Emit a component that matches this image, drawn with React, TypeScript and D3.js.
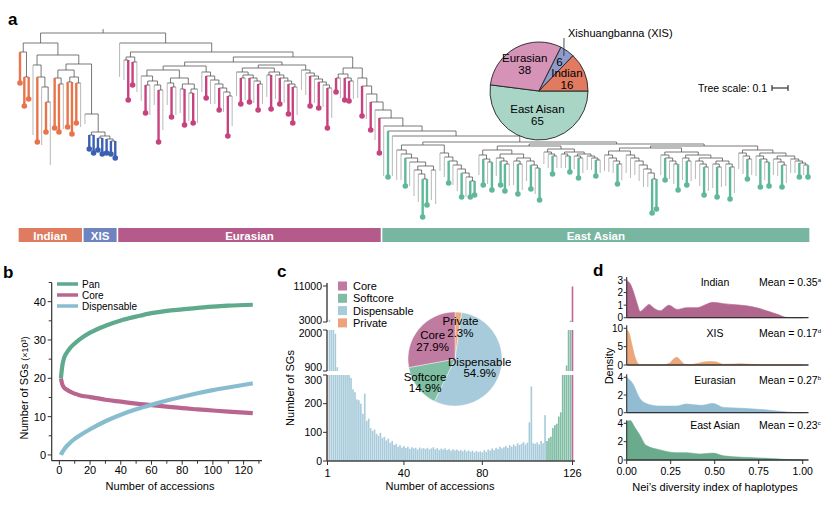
import * as d3 from "d3";

const FONT = "'Liberation Sans', Arial, Helvetica, sans-serif";

// ---------- a: tree (Newick; leaf code = group, upper case = pan-genome accession)
const INDIAN_A = "(I:31,(I:29,I:22):25):9";
const IND28 = "(i:70,(I:65,(i:58,(I:30,i:63):15):10):12):10";
const IND_RIGHT = "((I:50,(I:48,i:45):6):8,((I:45,I:52):5,(I:40,i:44):6):7):6";
const XIS = "(x:10,((X:14,X:18):3,((X:12,X:16):2,(X:14,(X:13,X:17):2):3):4):18):50";
const EU1 = "((e:20,E:40):3,(E:23,e:30):5):5";
const EUA1 = "(e:25,((E:28,e:30):4,(e:20,(E:52,e:40):5):4):5):6";
const EUA2 = "((e:22,(E:30,e:28):4):5,((e:24,E:36):5,((e:28,E:30):4,e:34):5):6):8";
const EUA3 = "(e:20,(E:22,(e:24,(e:20,(E:22,(e:20,(E:40,e:30):4):4):4):4):4):4):6";
const EUB1 = "(e:24,((E:26,e:22):3,(E:24,(e:22,(E:26,e:20):3):3):3):3):4";
const EUB2 = "((e:22,E:34):3,(e:24,(E:26,(e:22,(E:30,(E:36,e:28):3):3):3):3):3):4";
const EUB3 = "(e:20,(e:22,(E:30,(e:24,(E:26,(e:22,(E:40,e:30):3):3):3):3):3):3):5";
const EU3 = "((E:14,e:20):4,(E:22,(E:20,e:18):3):4):6";
const EA1 = "(a:30,(a:26,(A:28,(a:24,((a:26,(a:28,(A:38,A:26):5):4):4,(a:30,a:34):4):4):4):4):4):5";
const EA2 = "(a:18,(a:20,(A:22,(a:20,(a:22,(A:24,(a:20,(A:16,A:14):4):4):4):4):4):4):4):8";
const EA3 = "((a:20,(A:26,(a:22,A:28):3):4):5,((a:18,(A:24,(A:27,a:22):3):3):4,((a:24,(A:30,a:26):3):3,(a:20,(A:24,(a:26,A:32):3):4):3):4):4):4";
const EA4 = "((a:12,(a:14,(A:18,a:12):2):2):3,((a:14,(a:12,A:16):2):2,((a:13,(A:20,a:15):2):2,(a:14,(a:12,(A:16,a:13):2):2):2):2):3):3";
const EA5 = "((a:16,(a:14,(a:12,(A:20,a:16):3):3):3):4,(a:18,(a:20,(a:14,(a:16,(a:18,(a:14,(A:34,A:30):6):4):4):4):3):3):4):3";
const EA6 = "((a:20,(A:22,(a:18,(a:20,A:26):3):3):3):3,((a:22,(A:24,a:20):3):3,((a:18,(a:22,(A:28,a:24):3):3):3,((a:24,(A:30,a:20):3):3,(a:22,(A:32,a:26):3):3):3):3):3):4";
const EA7 = "((a:16,(a:18,(A:20,a:16):3):3):3,((a:20,(A:28,(a:18,A:24):3):3):3,((a:16,(a:14,(A:22,a:18):3):3):3,(a:14,(a:12,(A:14,(a:10,A:12):2):2):2):3):3):3):4";

const EA_MAIN = `((${EA1},${EA2}):3,((${EA3},${EA4}):2,((${EA5},${EA6}):2,${EA7}):2):2):6`;
const EA = `(a:50,(A:46,(a:40,${EA_MAIN}):5):5):8`;
const EU_LADDER = `(e:20,(E:30,(e:25,(E:28,(e:30,(E:35,${EA}):8):8):8):8):8):10`;
const EUA = `((${EUA1},${EUA2}):4,${EUA3}):4`;
const EUB = `((${EUB1},${EUB2}):3,${EUB3}):3`;
const EU2 = `(${EUA},${EUB}):5`;
const R4 = `(${EU3},${EU_LADDER}):11`;
const R3 = `(${EU2},${R4}):5`;
const R2 = `(${EU1},${R3}):9`;
const R = `(e:34,${R2}):10`;
const IND57 = `(${IND_RIGHT},${XIS}):9`;
const INDB = `(${IND28},${IND57}):12`;
const L = `(${INDIAN_A},${INDB}):10`;
const TREE = `(${L},${R});`;

const GROUP_CODES = ["i", "x", "e", "a"];
const GROUP_NAMES = ["Indian", "XIS", "Eurasian", "East Asian"];
const TREE_COLORS = ["#e8744c", "#3b5fb3", "#c7437f", "#5fb898"];
const BAR_COLORS = ["#df7b5f", "#6d84c1", "#b55b8b", "#79b6a2"];

const PIE_A_NAMES = ["East Aisan", "Eurasian", "", "Indian"];
const PIE_A_VALUES = [65, 38, 6, 16];
const PIE_A_COLORS = ["#a8d5c6", "#d593b8", "#8f9bcb", "#e07b61"];

// ---------- b: saturation curves (x10^3 SGs)
const CURVE_N = [1, 2, 3, 5, 7, 10, 13, 20, 30, 40, 50, 60, 70, 80, 90, 100, 110, 126];
const PAN = [20, 23.5, 25.2, 26.8, 27.9, 29.1, 30.1, 31.9, 33.7, 35.1, 36.1, 37, 37.6, 38, 38.4, 38.7, 38.95, 39.2];
const CORE = [20, 18.3, 17.6, 17, 16.5, 16, 15.6, 15.1, 14.4, 13.9, 13.4, 13, 12.6, 12.2, 11.9, 11.6, 11.3, 10.9];
const DISP = [0, 0.8, 1.4, 2.4, 3.2, 4.2, 5, 6.7, 8.8, 10.5, 11.9, 13.1, 14.2, 15.2, 16.1, 16.9, 17.6, 18.7];
const CURVE_NAMES = ["Pan", "Core", "Dispensable"];
const CURVE_COLORS = ["#5fa98d", "#b8668f", "#88bdd0"];

// ---------- c: SG frequency histogram
const PRIVATE_COUNTS = [900];
const DISPENSABLE_COUNTS = [
  3500, 2050, 2000, 1900, 1000, 600, 520, 470, 430, 390, 340,
  290, 250, 240, 215, 212, 200, 165, 235,
  140, 148, 115, 105, 110, 95, 88, 98, 80, 84,
  72, 78, 64, 70, 56, 60, 50, 55, 47, 52,
  45, 50, 42, 48, 44, 46, 40, 47, 43, 45,
  42, 46, 40, 44, 48, 41, 45, 39, 43, 40,
  44, 38, 42, 36, 41, 37, 40, 35, 38, 34,
  39, 33, 37, 32, 36, 30, 35, 31, 34, 30,
  38, 32, 40, 36, 44, 38, 46, 42, 50, 44,
  48, 52, 46, 55, 50, 58, 52, 62, 56, 60,
  66, 58, 64, 135, 260, 62, 60, 65, 58, 70, 62, 160,
];
const SOFTCORE_COUNTS = [70, 80, 85, 115, 125, 130, 155, 170, 400, 700, 1050, 2200, 3300];
const CORE_COUNTS = [10900];
const HIST_COLORS = ["#ec8d5e", "#a9ccdc", "#80bea4", "#c2659b"];
const C_TICKS = [0, 100, 200, 300, 900, 2000, 3000, 11000];
const C_XTICKS = [1, 40, 80, 126];

const PIE_C_NAMES = ["Private", "Dispensable", "Softcore", "Core"];
const PIE_C_VALUES = [2.3, 54.9, 14.9, 27.9];
const PIE_C_COLORS = ["#eeaa80", "#a8cbdb", "#7fbea3", "#bf7ba0"];
const LEGEND_C = ["Core", "Softcore", "Dispensable", "Private"];
const LEGEND_C_COLORS = ["#c07ba0", "#7fbca3", "#a8cbdb", "#eda27a"];

// ---------- d: Nei's diversity densities
const INDIAN_DENS: [number, number][] = [[0, 2.95], [0.02, 2.7], [0.04, 2.0], [0.06, 1.1], [0.077, 0.5], [0.1, 0.75], [0.127, 1.06], [0.155, 0.75], [0.19, 0.55], [0.24, 1.0], [0.287, 0.66], [0.34, 0.8], [0.4, 0.8], [0.45, 1.05], [0.49, 1.22], [0.55, 1.12], [0.6, 1.05], [0.68, 0.95], [0.75, 0.75], [0.8, 0.53], [0.86, 0.25], [0.91, 0.02], [1.0, 0]];
const XIS_DENS: [number, number][] = [[0, 9.6], [0.015, 8.5], [0.03, 5.5], [0.045, 2.5], [0.06, 0.7], [0.075, 0.05], [0.2, 0], [0.24, 0.4], [0.265, 1.6], [0.285, 2.1], [0.305, 1.3], [0.33, 0.2], [0.36, 0.1], [0.4, 0.4], [0.44, 0.85], [0.48, 0.95], [0.51, 0.8], [0.55, 0.2], [0.6, 0.25], [0.64, 0.35], [0.7, 0.2], [0.75, 0.1], [0.8, 0], [1, 0]];
const EURASIAN_DENS: [number, number][] = [[0, 4.0], [0.034, 3.3], [0.075, 1.6], [0.11, 1.05], [0.19, 0.75], [0.284, 0.75], [0.34, 0.98], [0.42, 0.83], [0.49, 1.05], [0.55, 0.6], [0.66, 0.5], [0.8, 0.3], [0.91, 0.08], [0.98, 0], [1, 0]];
const EASTASIAN_DENS: [number, number][] = [[0, 4.2], [0.02, 4.3], [0.045, 3.6], [0.075, 2.7], [0.11, 1.6], [0.19, 1.1], [0.284, 0.8], [0.34, 0.8], [0.42, 0.65], [0.49, 0.75], [0.55, 0.45], [0.66, 0.3], [0.8, 0.18], [0.95, 0.02], [1, 0]];
const DENS_NAMES = ["Indian", "XIS", "Eurasian", "East Asian"];
const DENS_MEANS = ["0.35", "0.17", "0.27", "0.23"];
const DENS_SUPS = ["a", "d", "b", "c"];
const DENS_MAX = [3, 10, 4, 4];
const DENS_TICKS = [[0, 1, 2, 3], [0, 5, 10], [0, 2, 4], [0, 2, 4]];
const DENS_COLORS = ["#b1668d", "#eba67b", "#91bcd2", "#6aab8e"];
const D_XTICKS = [0, 0.25, 0.5, 0.75, 1];

type TNode = { name: string; length: number; children: TNode[] };

function parseNewick(s: string): TNode {
  let i = 0;
  function node(): TNode {
    const n: TNode = { name: "", length: 0, children: [] };
    if (s[i] === "(") {
      i++;
      n.children.push(node());
      while (s[i] === ",") {
        i++;
        n.children.push(node());
      }
      i++;
    }
    while (i < s.length && !",():;".includes(s[i])) n.name += s[i++];
    if (s[i] === ":") {
      i++;
      let num = "";
      while (i < s.length && /[0-9.]/.test(s[i])) num += s[i++];
      n.length = +num;
    }
    return n;
  }
  return node();
}

function TreePanel() {
  const root: any = d3.hierarchy(parseNewick(TREE), (d) => (d.children.length ? d.children : null));
  const leaves: any[] = root.leaves();
  const xLeaf = d3.scaleLinear().domain([0, leaves.length - 1]).range([20, 808]);
  const yTree = d3.scaleLinear().domain([0, 100]).range([33, 133]);
  root.eachBefore((n: any) => {
    n.dist = (n.parent ? n.parent.dist : 0) + n.data.length;
  });
  leaves.forEach((l, i) => (l.px = xLeaf(i)));
  root.eachAfter((n: any) => {
    if (n.children) n.px = (n.children[0].px + n.children[n.children.length - 1].px) / 2;
  });
  const nodes: any[] = root.descendants();
  const spacing = xLeaf(1) - xLeaf(0);
  const colored = leaves.filter((l) => l.data.name !== l.data.name.toLowerCase());

  const pie = d3.pie<number>().sort(null).startAngle(Math.PI / 2).endAngle(Math.PI / 2 + 2 * Math.PI)(PIE_A_VALUES);
  const pr = 49;
  const arc = d3.arc<d3.PieArcDatum<number>>().innerRadius(0).outerRadius(pr);
  const cx = 539, cy = 91;
  const xisSlice = pie[2];
  const xisMid = (xisSlice.startAngle + xisSlice.endAngle) / 2;

  return (
    <g>
      <text x={8} y={25} fontSize={17} fontWeight="bold">a</text>
      <line x1={root.px} x2={root.px} y1={yTree(0) - 4} y2={yTree(0)} stroke="#555" strokeWidth={0.8} />
      {nodes.filter((n) => n.children).map((n, k) => (
        <line key={"h" + k} x1={n.children[0].px} x2={n.children[n.children.length - 1].px}
          y1={yTree(n.dist)} y2={yTree(n.dist)} stroke="#555" strokeWidth={0.8} />
      ))}
      {nodes.filter((n) => n.parent).map((n, k) => (
        <line key={"v" + k} x1={n.px} x2={n.px} y1={yTree(n.parent.dist)} y2={yTree(n.dist)}
          stroke={n.children ? "#555" : "#a6a6a6"} strokeWidth={0.8} />
      ))}
      {colored.map((n, k) => {
        const c = TREE_COLORS[GROUP_CODES.indexOf(n.data.name.toLowerCase())];
        return (
          <g key={"c" + k}>
            <line x1={n.px} x2={n.px} y1={yTree(n.parent.dist)} y2={yTree(n.dist)} stroke={c} strokeWidth={2.4} />
            <circle cx={n.px} cy={yTree(n.dist)} r={2.8} fill={c} />
          </g>
        );
      })}
      {GROUP_CODES.map((code, gi) => {
        const xs = leaves.filter((l) => l.data.name.toLowerCase() === code).map((l) => l.px);
        const x0 = (d3.min(xs) as number) - spacing / 2 + 0.8;
        const x1 = (d3.max(xs) as number) + spacing / 2 - 0.8;
        return (
          <g key={code}>
            <rect x={x0} y={228} width={x1 - x0} height={14} fill={BAR_COLORS[gi]} />
            <text x={(x0 + x1) / 2} y={239.5} fontSize={11.5} fontWeight="bold" fill="#fff" textAnchor="middle">
              {GROUP_NAMES[gi]}
            </text>
          </g>
        );
      })}
      <g transform={`translate(${cx},${cy})`}>
        {pie.map((s, k) => (
          <path key={k} d={arc(s) ?? ""} fill={PIE_A_COLORS[k]} stroke="#222" strokeWidth={0.9} />
        ))}
        {pie.map((s, k) => {
          const a = (s.startAngle + s.endAngle) / 2;
          const rr = pr * (k === 0 ? 0.5 : k === 2 ? 0.72 : 0.62);
          const lx = Math.sin(a) * rr, ly = -Math.cos(a) * rr;
          return PIE_A_NAMES[k] ? (
            <text key={"t" + k} x={lx} y={ly - 2} fontSize={11.5} textAnchor="middle">
              <tspan x={lx}>{PIE_A_NAMES[k]}</tspan>
              <tspan x={lx} dy={11.5}>{PIE_A_VALUES[k]}</tspan>
            </text>
          ) : (
            <text key={"t" + k} x={lx} y={ly + 4} fontSize={11.5} textAnchor="middle">{PIE_A_VALUES[k]}</text>
          );
        })}
        <line x1={Math.sin(xisMid) * pr * 0.88} y1={-Math.cos(xisMid) * pr * 0.88} x2={25} y2={-53} stroke="#222" strokeWidth={0.8} />
      </g>
      <text x={568} y={37} fontSize={11}>Xishuangbanna (XIS)</text>
      <text x={698} y={92} fontSize={10.5}>Tree scale: 0.1</text>
      <line x1={772} x2={788} y1={88} y2={88} stroke="#333" strokeWidth={1.2} />
      <line x1={772} x2={772} y1={85} y2={91} stroke="#333" strokeWidth={1.2} />
      <line x1={788} x2={788} y1={85} y2={91} stroke="#333" strokeWidth={1.2} />
    </g>
  );
}

function CurvePanel() {
  const x = d3.scaleLinear().domain([-5, 132]).range([51.7, 262]);
  const y = d3.scaleLinear().domain([-1.5, 45]).range([460.7, 282.5]);
  const line = d3.line<number>().x((_, i) => x(CURVE_N[i])).y((d) => y(d)).curve(d3.curveMonotoneX);
  const series = [PAN, CORE, DISP];
  const order = [1, 2, 0];
  return (
    <g>
      <text x={3} y={278} fontSize={17} fontWeight="bold">b</text>
      <line x1={x(-5)} x2={x(-5)} y1={y(45)} y2={y(-1.5)} stroke="#333" strokeWidth={1.2} />
      <line x1={x(-5)} x2={x(132)} y1={y(-1.5)} y2={y(-1.5)} stroke="#333" strokeWidth={1.2} />
      {d3.range(0, 46, 5).map((t) => (
        <line key={"yt" + t} x1={x(-5) - (t % 10 === 0 ? 4 : 3)} x2={x(-5)} y1={y(t)} y2={y(t)} stroke="#333" strokeWidth={1} />
      ))}
      {d3.range(0, 41, 10).map((t) => (
        <text key={"yl" + t} x={46} y={y(t) + 4} fontSize={11} textAnchor="end">{t}</text>
      ))}
      {d3.range(0, 131, 10).map((t) => (
        <line key={"xt" + t} x1={x(t)} x2={x(t)} y1={y(-1.5)} y2={y(-1.5) + (t % 20 === 0 ? 4 : 3)} stroke="#333" strokeWidth={1} />
      ))}
      {d3.range(0, 121, 20).map((t) => (
        <text key={"xl" + t} x={x(t)} y={474} fontSize={11} textAnchor="middle">{t}</text>
      ))}
      {order.map((k) => (
        <path key={k} d={line(series[k]) ?? ""} fill="none" stroke={CURVE_COLORS[k]} strokeWidth={4.2} />
      ))}
      {CURVE_NAMES.map((n, k) => (
        <g key={n}>
          <line x1={57} x2={78} y1={284 + k * 11} y2={284 + k * 11} stroke={CURVE_COLORS[k]} strokeWidth={3.5} />
          <text x={82} y={287.5 + k * 11} fontSize={10}>{n}</text>
        </g>
      ))}
      <text transform="translate(28,388) rotate(-90)" fontSize={11} textAnchor="middle">
        Number of SGs <tspan fontSize={9}>(×10³)</tspan>
      </text>
      <text x={160} y={490} fontSize={11} textAnchor="middle">Number of accessions</text>
    </g>
  );
}

function HistPanel() {
  const x = d3.scaleLinear().domain([1, 126]).range([327.5, 572.5]);
  const yLow = d3.scaleLinear().domain([0, 300]).range([461, 375]);
  const yMid = d3.scaleLinear().domain([900, 2000]).range([371, 330]);
  const yTop = d3.scaleLinear().domain([3000, 11000]).range([322, 286]);
  const yC = (v: number) => (v <= 300 ? yLow(v) : v <= 2000 ? yMid(v) : yTop(v));
  // label nudges where the broken axis packs two ticks close together
  const labelShift = (v: number) => (v === 300 ? 5 : v === 2000 ? 3.5 : v === 900 ? -3.5 : v === 3000 ? -1.5 : 0);
  const groups = [PRIVATE_COUNTS, DISPENSABLE_COUNTS, SOFTCORE_COUNTS, CORE_COUNTS];
  const bars: { acc: number; v: number; c: string }[] = [];
  let acc = 1;
  groups.forEach((g, gi) => g.forEach((v) => bars.push({ acc: acc++, v, c: HIST_COLORS[gi] })));
  const bw = x(2) - x(1);

  const pie = d3.pie<number>().sort(null)(PIE_C_VALUES);
  const pr = 47;
  const arc = d3.arc<d3.PieArcDatum<number>>().innerRadius(0).outerRadius(pr);
  const labelR = [0.7, 0.55, 0.8, 0.62];

  return (
    <g>
      <text x={277} y={277} fontSize={17} fontWeight="bold">c</text>
      {bars.map((b) => {
        const segs: [number, number][] = [[yLow(0), yLow(Math.min(b.v, 300))]];
        if (b.v > 900) segs.push([yMid(900), yMid(Math.min(b.v, 2000))]);
        if (b.v > 3000) segs.push([yTop(3000), yTop(b.v)]);
        const w = b.acc === 1 || b.acc === 126 ? 1.6 : bw - 0.3;
        return segs.map((s, k) => (
          <rect key={b.acc + "-" + k} x={x(b.acc) - w / 2} y={s[1]} width={w} height={s[0] - s[1]} fill={b.c} />
        ));
      })}
      <line x1={327} x2={327} y1={yLow(0)} y2={yLow(300)} stroke="#555" strokeWidth={1.6} />
      <line x1={327} x2={327} y1={yMid(900)} y2={yMid(2000)} stroke="#555" strokeWidth={1.6} />
      <line x1={327} x2={327} y1={yTop(3000)} y2={283} stroke="#555" strokeWidth={1.6} />
      <line x1={327} x2={575} y1={461} y2={461} stroke="#444" strokeWidth={1.4} />
      {C_TICKS.map((t) => (
        <g key={t}>
          <line x1={323} x2={327} y1={yC(t)} y2={yC(t)} stroke="#333" strokeWidth={1} />
          <text x={322} y={yC(t) + 3.8 + labelShift(t)} fontSize={10.5} textAnchor="end">{t}</text>
        </g>
      ))}
      {C_XTICKS.map((t) => (
        <g key={t}>
          <line x1={x(t)} x2={x(t)} y1={461} y2={465} stroke="#333" strokeWidth={1} />
          <text x={x(t)} y={477} fontSize={11} textAnchor="middle">{t}</text>
        </g>
      ))}
      <text transform="translate(294,388) rotate(-90)" fontSize={11} textAnchor="middle">Number of SGs</text>
      <text x={440} y={490} fontSize={11} textAnchor="middle">Number of accessions</text>
      {LEGEND_C.map((n, k) => (
        <g key={n}>
          <rect x={338} y={281.5 + k * 12.3} width={9} height={9} fill={LEGEND_C_COLORS[k]} />
          <text x={353} y={290 + k * 12.3} fontSize={11}>{n}</text>
        </g>
      ))}
      <g transform="translate(455,359)">
        {pie.map((s, k) => (
          <path key={k} d={arc(s) ?? ""} fill={PIE_C_COLORS[k]} stroke="#fff" strokeWidth={0.4} />
        ))}
        {pie.map((s, k) => {
          const a = (s.startAngle + s.endAngle) / 2;
          const rr = pr * labelR[k];
          const lx = Math.sin(a) * rr + (k === 0 ? 3 : 0), ly = -Math.cos(a) * rr;
          return (
            <text key={"t" + k} x={lx} y={ly - 1} fontSize={11.5} textAnchor="middle">
              <tspan x={lx}>{PIE_C_NAMES[k]}</tspan>
              <tspan x={lx} dy={11.5}>{PIE_C_VALUES[k].toFixed(1)}%</tspan>
            </text>
          );
        })}
      </g>
    </g>
  );
}

function DensityPanel() {
  const x = d3.scaleLinear().domain([0, 1]).range([626.7, 802.7]);
  const data = [INDIAN_DENS, XIS_DENS, EURASIAN_DENS, EASTASIAN_DENS];
  const bases = [317.7, 365, 412.7, 460];
  const tops = [280, 328.3, 377.3, 423.3];
  const labelY = [285.5, 337, 384, 429];
  return (
    <g>
      <text x={593} y={276} fontSize={17} fontWeight="bold">d</text>
      {data.map((dd, k) => {
        const y = d3.scaleLinear().domain([0, DENS_MAX[k]]).range([bases[k], tops[k]]);
        const area = d3.area<[number, number]>().x((d) => x(d[0])).y0(bases[k]).y1((d) => y(d[1])).curve(d3.curveMonotoneX);
        return (
          <g key={k}>
            <path d={area(dd) ?? ""} fill={DENS_COLORS[k]} stroke={DENS_COLORS[k]} strokeOpacity={0.6} strokeWidth={1} />
            <line x1={x(0)} x2={x(0)} y1={bases[k]} y2={tops[k] - 3} stroke="#333" strokeWidth={1.1} />
            <line x1={x(0)} x2={808.5} y1={bases[k]} y2={bases[k]} stroke="#333" strokeWidth={1.3} />
            {DENS_TICKS[k].map((t) => (
              <g key={t}>
                <line x1={x(0) - 3} x2={x(0)} y1={y(t)} y2={y(t)} stroke="#333" strokeWidth={1} />
                <text x={623} y={y(t) + 3.5} fontSize={10} textAnchor="end">{t}</text>
              </g>
            ))}
            <text x={715} y={labelY[k]} fontSize={10.5} textAnchor="middle">{DENS_NAMES[k]}</text>
            <text x={759} y={labelY[k]} fontSize={10.5}>
              Mean = {DENS_MEANS[k]}<tspan fontSize={6} dy={-4}>{DENS_SUPS[k]}</tspan>
            </text>
          </g>
        );
      })}
      {D_XTICKS.map((t) => (
        <g key={t}>
          <line x1={x(t)} x2={x(t)} y1={460} y2={464} stroke="#333" strokeWidth={1} />
          <text x={x(t)} y={475} fontSize={10.5} textAnchor="middle">{t.toFixed(2)}</text>
        </g>
      ))}
      <text transform="translate(613,366) rotate(-90)" fontSize={11} textAnchor="middle">Density</text>
      <text x={715} y={491} fontSize={11} textAnchor="middle">Nei’s diversity index of haplotypes</text>
    </g>
  );
}

export default function App() {
  return (
    <svg width={827} height={506} style={{ position: "absolute", left: 0, top: 0, fontFamily: FONT }}>
      <rect width={827} height={506} fill="#fff" />
      <TreePanel />
      <CurvePanel />
      <HistPanel />
      <DensityPanel />
    </svg>
  );
}
